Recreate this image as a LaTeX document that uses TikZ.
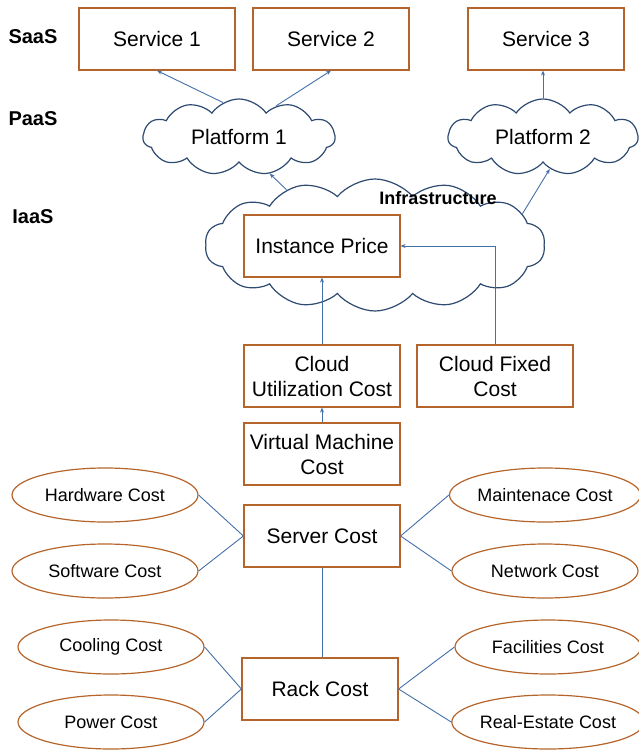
\documentclass[tikz,border=0pt]{standalone}
\usepackage{fontspec}
\setmainfont{Liberation Sans}
\usetikzlibrary{shapes.symbols,shapes.geometric,arrows.meta}
\definecolor{boxc}{HTML}{B5652B}
\definecolor{linec}{HTML}{4470A8}
\definecolor{cloudc}{HTML}{2E4A70}
\begin{document}
\begin{tikzpicture}[x=1pt,y=-1pt,
  box/.style={draw=boxc, line width=1.2pt, fill=white, minimum width=156pt, minimum height=62pt, inner sep=0pt, align=center, font=\fontsize{21}{25}\selectfont},
  oval/.style={ellipse, draw=boxc, line width=1.2pt, minimum width=186pt, minimum height=54pt, inner sep=0pt, font=\fontsize{18}{21}\selectfont},
  puff/.style={cloud, cloud puffs=11, cloud puff arc=110, cloud ignores aspect, draw=cloudc, line width=1.2pt, fill=white, font=\fontsize{21}{24}\selectfont},
  conn/.style={draw=linec, line width=0.9pt},
  arr/.style={conn, -{Stealth[length=5pt,width=4pt]}},
  layer/.style={font=\fontsize{20}{24}\selectfont\bfseries}
]
\useasboundingbox (0,0) rectangle (638,751);

\node[box] (s1) at (157,39) {Service 1};
\node[box] (s2) at (331,39) {Service 2};
\node[box] (s3) at (546,39) {Service 3};

\node[layer] (saas) at (33,37) {SaaS};
\node[layer] (paas) at (33,119) {PaaS};
\node[layer] (iaas) at (33,217) {IaaS};

\node[puff, minimum width=192pt, minimum height=76pt] (p1) at (239,137) {Platform 1};
\node[puff, minimum width=190pt, minimum height=76pt] (p2) at (543,137) {Platform 2};

\node[puff, cloud puffs=14, cloud puff arc=100, minimum width=340pt, minimum height=132pt] (infra) at (375,245) {};
\node[font=\fontsize{18}{21}\selectfont\bfseries] (infl) at (438,198) {Infrastructure};

\node[box] (ip) at (322,246) {Instance Price};
\node[box] (cu) at (322,376) {Cloud\\Utilization Cost};
\node[box] (cf) at (495,376) {Cloud Fixed\\Cost};
\node[box] (vm) at (322,454) {Virtual Machine\\Cost};
\node[box] (sc) at (322,536) {Server Cost};
\node[box] (rc) at (320,689) {Rack Cost};

\node[oval] (hw) at (105,495) {Hardware Cost};
\node[oval] (sw) at (105,571) {Software Cost};
\node[oval] (co) at (111,647) {Cooling Cost};
\node[oval] (pw) at (111,722) {Power Cost};
\node[oval] (mc) at (545,495) {Maintenace Cost};
\node[oval] (nc) at (545,571) {Network Cost};
\node[oval] (fc) at (548,647) {Facilities Cost};
\node[oval] (re) at (548,722) {Real-Estate Cost};

\draw[conn] (hw.east) -- (sc.west);
\draw[conn] (sw.east) -- (sc.west);
\draw[conn] (mc.west) -- (sc.east);
\draw[conn] (nc.west) -- (sc.east);
\draw[conn] (co.east) -- (rc.west);
\draw[conn] (pw.east) -- (rc.west);
\draw[conn] (fc.west) -- (rc.east);
\draw[conn] (re.west) -- (rc.east);
\draw[conn] (sc.south) -- (sc.south |- rc.north);

\draw[arr] (vm) -- (cu);
\draw[arr] (cu) -- (ip);
\draw[arr] (cf.north) |- (ip.east);
\draw[arr] (infra.148) -- (p1.310);
\draw[arr] (infra.12) -- (p2.282);
\draw[arr] (p1.115) -- (s1.south);
\draw[arr] (p1.40) -- (s2.south);
\draw[arr] (p2.north) -- (p2.north |- s3.south);
\end{tikzpicture}
\end{document}
